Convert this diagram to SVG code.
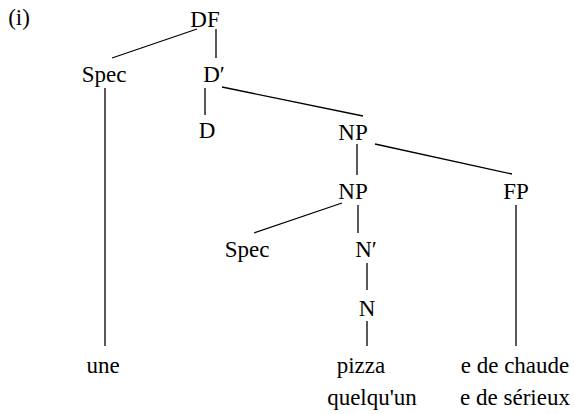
<svg xmlns="http://www.w3.org/2000/svg" width="574" height="414" viewBox="0 0 574 414" font-family="Liberation Serif, Times New Roman, serif">
<style>
text{font-size:23px;fill:#000;text-anchor:middle}
line{stroke:#000;stroke-width:1.3}
</style>
<rect width="574" height="414" fill="#fff"/>
<g id="connectors">
<line x1="197" y1="29" x2="112" y2="58"/>
<line x1="216" y1="29" x2="216" y2="58"/>
<line x1="222" y1="87" x2="363" y2="116"/>
<line x1="205" y1="88" x2="205" y2="115"/>
<line x1="105" y1="88" x2="105" y2="346"/>
<line x1="357" y1="144" x2="357" y2="175"/>
<line x1="375" y1="144" x2="512" y2="174"/>
<line x1="342" y1="203" x2="254" y2="233"/>
<line x1="358" y1="205" x2="358" y2="233"/>
<line x1="367" y1="263" x2="367" y2="290"/>
<line x1="367" y1="321" x2="367" y2="346"/>
<line x1="516" y1="205" x2="516" y2="346"/>
</g>
<g id="label-i"><text x="19" y="25">(i)</text></g>
<g id="DF"><text x="205" y="27">DF</text></g>
<g id="Spec1"><text x="104" y="82">Spec</text></g>
<g id="Dbar"><text x="214" y="82">D′</text></g>
<g id="D"><text x="207" y="138">D</text></g>
<g id="NP1"><text x="353" y="140">NP</text></g>
<g id="NP2"><text x="353" y="199">NP</text></g>
<g id="FP"><text x="516" y="199">FP</text></g>
<g id="Spec2"><text x="247" y="257">Spec</text></g>
<g id="Nbar"><text x="366" y="257">N′</text></g>
<g id="N"><text x="367" y="316">N</text></g>
<g id="une"><text x="103" y="373">une</text></g>
<g id="pizza"><text x="361" y="373">pizza</text><text x="372" y="405">quelqu'un</text></g>
<g id="edechaude"><text x="515" y="373">e de chaude</text><text x="515" y="405">e de sérieux</text></g>
</svg>
